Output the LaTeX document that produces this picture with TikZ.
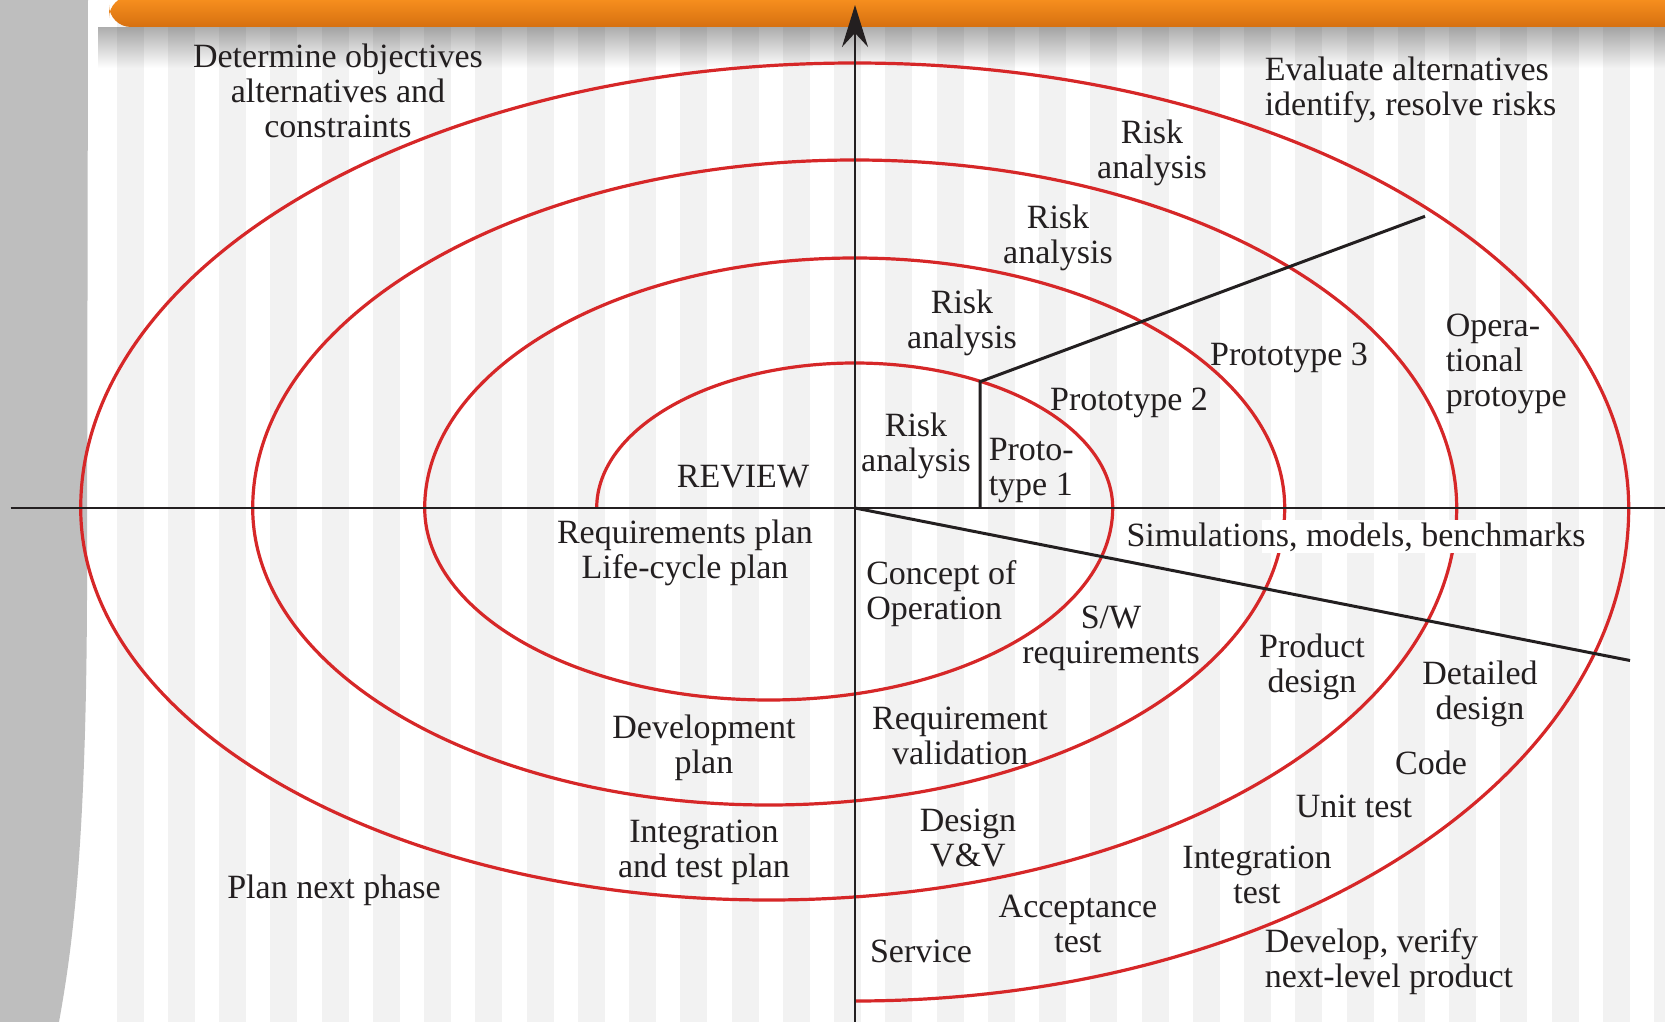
\documentclass[tikz,border=0pt]{standalone}
\usepackage{fontspec}
\setmainfont{Liberation Serif}
\usetikzlibrary{arrows.meta,fadings}

\tikzset{every picture/.style={line width=0.75pt}}

\begin{document}
\begin{tikzpicture}[x=0.5pt,y=0.5pt,yscale=-1,xscale=1,
  stripe/.style={fill={rgb, 255:red, 242; green, 242; blue, 242}},
  panel/.style={fill={rgb, 255:red, 190; green, 190; blue, 190}},
  spiral/.style={color={rgb, 255:red, 214; green, 39; blue, 40}, line width=1.6pt},
  axis/.style={color={rgb, 255:red, 35; green, 31; blue, 32}, line width=1.1pt},
  divider/.style={color={rgb, 255:red, 35; green, 31; blue, 32}, line width=1.5pt, line join=miter},
  lbl/.style={text={rgb, 255:red, 35; green, 31; blue, 32}, inner sep=0pt, align=center, yshift=-1.6pt, font=\fontsize{17}{17.5}\selectfont},
  lbll/.style={lbl, align=left, anchor=west}]
%uncomment if require: \path (0,1022); %set diagram left start at 0, and has height of 1022
\useasboundingbox (0,0) rectangle (1665,1022);

%Shape: Background stripes
\fill[white] (0,0) rectangle (1665,1022);
\foreach \k in {0,...,30}
  \fill[stripe] ({116.7+51.25*\k},0) rectangle ++(27,1022);
%Shape: Left panel
\fill[panel] (0,0) -- (88,0) -- (87,600) .. controls (86,850) and (72,950) .. (59,1022) -- (0,1022) -- cycle;
%Shape: Bar shadow
\fill[black, fill opacity=0.32, path fading=south] (98,27) rectangle (1665,68);
%Shape: Top bar
\shade[top color={rgb, 255:red, 250; green, 146; blue, 32}, bottom color={rgb, 255:red, 214; green, 112; blue, 16}, rounded corners=11pt] (109,-4) rectangle (1720,27);

%Shape: Spiral
\draw[spiral] (596.7,508) arc[start angle=180, end angle=360, x radius=258, y radius=145]
  arc[start angle=0, end angle=180, x radius=344, y radius=192]
  arc[start angle=180, end angle=360, x radius=430, y radius=250]
  arc[start angle=0, end angle=180, x radius=516, y radius=297]
  arc[start angle=180, end angle=360, x radius=602, y radius=348]
  arc[start angle=0, end angle=180, x radius=688, y radius=392]
  arc[start angle=180, end angle=360, x radius=774, y radius=445]
  arc[start angle=0, end angle=90, x radius=774, y radius=493];
%Shape: Label patch
\fill[white] (1262,520) rectangle (1477,553);

%Straight Lines
\coordinate (origin) at (855,508);
\coordinate (xleft) at (10.6,508);
\coordinate (xright) at (1665,508);
\coordinate (ybottom) at (855,1022);
\coordinate (ytop) at (855,5);
\coordinate (protofoot) at (980,508);
\coordinate (protoknee) at (980,381.7);
\coordinate (protoend) at (1425,216.3);
\coordinate (designend) at (1630,660.5);
\draw[axis] (xleft) -- (xright);
\draw[axis, -{Stealth[length=21pt,width=13pt,inset=7pt]}] (ybottom) -- (ytop);
\draw[divider] (protofoot) -- (protoknee) -- (protoend);
\draw[divider] (origin) -- (designend);

% Text Node
\node (objectives) at (338,88) [lbl] {Determine objectives\\alternatives and\\constraints};
% Text Node
\node (evaluate) at (1264,87) [lbll] {Evaluate alternatives\\identify, resolve risks};
% Text Node
\node (riskfour) at (1152,150) [lbl] {Risk\\analysis};
% Text Node
\node (riskthree) at (1058,235) [lbl] {Risk\\analysis};
% Text Node
\node (risktwo) at (962,320) [lbl] {Risk\\analysis};
% Text Node
\node (riskone) at (916,443) [lbl] {Risk\\analysis};
% Text Node
\node (protoone) at (988,467) [lbll] {Proto-\\type 1};
% Text Node
\node (prototwo) at (1129,400) [lbl] {Prototype 2};
% Text Node
\node (protothree) at (1289,355) [lbl] {Prototype 3};
% Text Node
\node (operational) at (1445,361) [lbll] {Opera-\\tional\\protoype};
% Text Node
\node (review) at (743,473) [lbl] {REVIEW};
% Text Node
\node (reqplan) at (685,550) [lbl] {Requirements plan\\Life-cycle plan};
% Text Node
\node (concept) at (865.5,590) [lbll] {Concept of\\Operation};
% Text Node
\node (swreq) at (1111,635) [lbl] {S/W\\requirements};
% Text Node
\node (product) at (1312,664) [lbl] {Product\\design};
% Text Node
\node (detailed) at (1480,691) [lbl] {Detailed\\design};
% Text Node
\node (simulations) at (1356,534) [lbl] {Simulations, models, benchmarks};
% Text Node
\node (devplan) at (704,745) [lbl] {Development\\plan};
% Text Node
\node (itplan) at (704,849) [lbl] {Integration\\and test plan};
% Text Node
\node (nextphase) at (334,887) [lbl] {Plan next phase};
% Text Node
\node (reqval) at (960,733) [lbl] {Requirement\\validation};
% Text Node
\node (designvv) at (968,835) [lbl] {Design\\V\&V};
% Text Node
\node (service) at (921,948) [lbl] {Service};
% Text Node
\node (acceptance) at (1078,921) [lbl] {Acceptance\\test};
% Text Node
\node (inttest) at (1257,872) [lbl] {Integration\\test};
% Text Node
\node (unittest) at (1354,803) [lbl] {Unit test};
% Text Node
\node (code) at (1431,760) [lbl] {Code};
% Text Node
\node (develop) at (1264,958) [lbll] {Develop, verify\\next-level product};

\end{tikzpicture}
\end{document}
